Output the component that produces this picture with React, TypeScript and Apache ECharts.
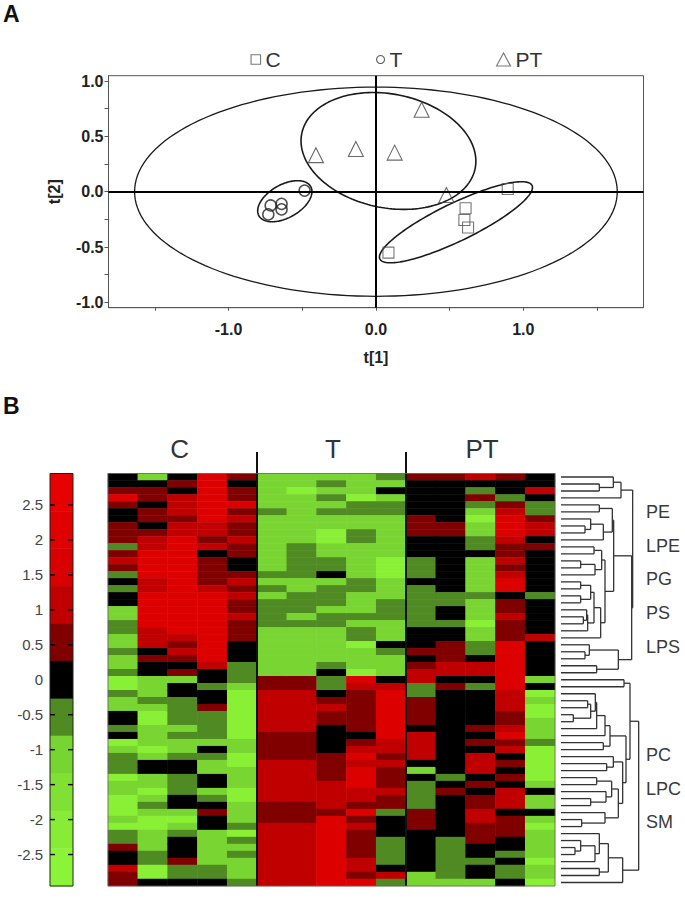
import React, { useEffect, useRef } from "react";
import * as echarts from "echarts";

const FONT = '"Liberation Sans", Arial, sans-serif';

// Panel A: score plot
const groupC = [[0.894, 0.024], [0.608, -0.15], [0.6, -0.256], [0.625, -0.323], [0.085, -0.55]];
const groupT = [[-0.484, 0.01], [-0.64, -0.11], [-0.64, -0.16], [-0.714, -0.124], [-0.73, -0.205]];
const groupPT = [[0.31, 0.74], [-0.136, 0.386], [0.127, 0.353], [-0.407, 0.33], [0.478, -0.03]];
// centre x, centre y, half width, half height, phase (deg), line width
const ellipses = [
  [0, 0, 1.637, 0.945, 90, 1.3],
  [0.085, 0.368, 0.593, 0.528, 100, 1.6],
  [0.543, -0.276, 0.519, 0.3665, 31, 1.6],
  [-0.618, -0.086, 0.184, 0.1855, 62, 1.6],
];

// Panel B: colour scale
const barEdges = [2.95, 2.41, 1.88, 1.34, 0.8, 0.27, -0.27, -0.8, -1.34, -1.88, -2.41, -2.95];
const barColors = ["#e60000", "#e00000", "#d80000", "#c00000", "#800000", "#000000", "#4f8a23", "#78d430", "#80e033", "#88ec36", "#8cf438"];
const barTicks = [2.5, 2, 1.5, 1, 0.5, 0, -0.5, -1, -1.5, -2, -2.5];

// Level codes used in the heat map columns
const levelValues: Record<string, number> = { "3": 2.15, "2": 1.07, "1": 0.54, "0": 0, a: -0.54, b: -1.07, c: -2.15 };
const levelColors: Record<string, string> = { "3": "#dd0000", "2": "#c00000", "1": "#800000", "0": "#000000", a: "#4f8a23", b: "#79d531", c: "#8af036" };

// Each column: rows 0-28 then rows 29-58
const colC1 = "00131" + "00111" + "a121a" + "0a00b" + "baabb" + "abba" + "ccabb" + "00a0c" + "baaac" + "bbccc" + "bcaa1" + "00211";
const colC2 = "b0110" + "11012" + "23333" + "22333" + "33222" + "0100" + "bbbab" + "ccbbb" + "cb00b" + "bcbab" + "ccbbb" + "aacc0";
const colC3 = "01022" + "21223" + "33333" + "33333" + "33321" + "2101" + "b00aa" + "aabab" + "ba00a" + "aa00b" + "cba00" + "01aa0";
const colC4 = "33333" + "33221" + "20111" + "12333" + "33333" + "3320" + "0a001" + "aaaab" + "0abb0" + "0ba01" + "00bbb" + "bbaa0";
const colC5 = "10113" + "12112" + "11001" + "21211" + "21110" + "00aa" + "abccc" + "ccccb" + "bccbb" + "bccbb" + "bacab" + "abbba";
const colT1 = "bbbbb" + "abbbb" + "bbbba" + "babaa" + "aabbb" + "bbbb" + "11222" + "22211" + "11222" + "22211" + "12222" + "22222";
const colT2 = "bbcbb" + "bbbbb" + "aaaaa" + "bbaaa" + "babbb" + "bbbb" + "11222" + "22211" + "11222" + "22211" + "12222" + "22222";
const colT3 = "babab" + "abbcc" + "bbaa0" + "baaab" + "aabbb" + "bba0" + "aa012" + "11000" + "01111" + "22221" + "33333" + "33333";
const colT4 = "bbbca" + "abbaa" + "bbbbb" + "aabbb" + "abaac" + "bbbc" + "32111" + "11101" + "23233" + "32213" + "12111" + "12213";
const colT5 = "ab0ba" + "abbbb" + "bbccc" + "bbbaa" + "abbb0" + "abbb" + "02333" + "33332" + "21211" + "1211a" + "000aa" + "aa02a";
const colPT1 = "10000" + "01110" + "00aaa" + "0aaaa" + "aa000" + "1012" + "2aa11" + "11022" + "220b0" + "aaaa1" + "11000" + "000bb";
const colPT2 = "10000" + "00110" + "00000" + "00aa0" + "0a001" + "1122" + "01000" + "00000" + "0000a" + "01000" + "000aa" + "aaaab";
const colPT3 = "20a1a" + "bcbba" + "a0bbb" + "bbabb" + "bcbba" + "a022" + "0a000" + "00101" + "02220" + "10112" + "21110" + "0a00b";
const colPT4 = "100a1" + "23332" + "11212" + "33011" + "21113" + "3333" + "33222" + "11231" + "20101" + "02220" + "11100" + "a0aa0";
const colPT5 = "0020a" + "a1220" + "10000" + "00a00" + "00020" + "0000" + "b0cbc" + "cbbba" + "ccccc" + "b0bb0" + "bcbbb" + "bcbbc";
const heatColumns = [colC1, colC2, colC3, colC4, colC5, colT1, colT2, colT3, colT4, colT5, colPT1, colPT2, colPT3, colPT4, colPT5];

// Dendrogram trees: leaf = row index, node = [merge height, left, right]
type Node = number | [number, Node, Node];
const topTree: Node = [248,
  [213, [190, 0, [148, 1, 2]], 3],
  [245,
    [191,
      [187, [148, 4, 5], [160, [122, 6, [105, 7, 8]], 9]],
      [165,
        [155, [132, 10, 11], [135, [92, 12, 13], 14]],
        [152, [132, [122, [92, 15, 16], [92, 17, 18]], [113, [110, 19, [100, 20, 21]], 22]], 23]]],
    [205, [118, 24, [105, 25, 26]], [140, 27, 28]]]];
const bottomTree: Node = [266,
  [240,
    [222, 29, 30],
    [228,
      [180, [165, [140, [136, 31, [122, [113, 32, 33], [70, 34, 35]]], 36], 37], [160, 38, 39]],
      [218,
        [190, 40, [170, 41, 42]],
        [205, [185, [140, 43, 44], [168, 45, [122, 46, 47]]], [165, 48, [95, 49, 50]]]]]],
  [218, [175, [148, 51, [135, [92, 52, [75, 53, 54]], 55]], [148, 56, 57]], 58]];

const columnHeads = ["C", "T", "PT"];
const classesTop = ["PE", "LPE", "PG", "PS", "LPS"];
const classesBottom = ["PC", "LPC", "SM"];

const ROWS = 59;
const LEAF = 33;
const HEAT = { left: 108, top: 473.5, width: 447, height: 412.5 };

function walk(node: Node, out: number[][]): { x: number; y: number } {
  if (typeof node === "number") return { x: LEAF, y: node };
  const [h, l, r] = node;
  const a = walk(l, out);
  const b = walk(r, out);
  out.push([a.x, a.y, h, a.y], [b.x, b.y, h, b.y], [h, a.y, h, b.y]);
  return { x: h, y: (a.y + b.y) / 2 };
}

function buildOption() {
  const heatData: number[][] = [];
  heatColumns.forEach((col, x) => {
    for (let y = 0; y < ROWS; y++) heatData.push([x, y, levelValues[col[y] ?? "0"]]);
  });
  const segs: number[][] = [];
  walk(topTree, segs);
  walk(bottomTree, segs);
  const bars = barColors.map((_, i) => [barEdges[i + 1], barEdges[i], i]);
  const colW = HEAT.width / heatColumns.length;
  const sepXs = [5, 10].map((k) => HEAT.left + k * colW);
  const headOffsets = [2.4, 7.55, 12.55];

  const labelText = (text: string, x: number, y: number, size: number, bold = false, color = "#3a3a3a") => ({
    type: "text" as const,
    x,
    y,
    style: { text, font: `${bold ? "bold " : ""}${size}px ${FONT}`, fill: color, textAlign: "left", textVerticalAlign: "middle" },
  });
  const legendItem = (name: string, icon: string, left: number, w: number, h: number, stroke: string) => ({
    left,
    top: 44,
    itemWidth: w,
    itemHeight: h,
    selectedMode: false,
    itemStyle: { color: "transparent", borderColor: stroke, borderWidth: 1.1 },
    textStyle: { fontFamily: FONT, fontSize: 21, color: "#333" },
    data: [{ name, icon }],
  });

  return {
    animation: false,
    backgroundColor: "#fff",
    textStyle: { fontFamily: FONT },
    legend: [
      legendItem("C", "rect", 245.5, 9.5, 9.5, "#555"),
      legendItem("T", "circle", 371, 8, 8, "#333"),
      legendItem("PT", "triangle", 491, 14, 13, "#555"),
    ],
    grid: [
      { left: 108.5, top: 75.7, width: 535, height: 232, show: true, borderColor: "#555", borderWidth: 1 },
      { left: 50, top: HEAT.top, width: 23, height: HEAT.height },
      { ...HEAT },
      { left: 561, top: HEAT.top, width: 79, height: HEAT.height },
    ],
    xAxis: [
      {
        gridIndex: 0, type: "value", min: -1.814, max: 1.815, splitLine: { show: false },
        name: "t[1]", nameLocation: "middle", nameGap: 42,
        nameTextStyle: { fontFamily: FONT, fontWeight: "bold", fontSize: 16, color: "#222" },
        axisLine: { show: true, onZero: false, lineStyle: { color: "#555" } },
        axisTick: { show: true, length: 3, lineStyle: { color: "#555" }, customValues: [-1.5, -1, -0.5, 0, 0.5, 1, 1.5] },
        axisLabel: { customValues: [-1, 0, 1], margin: 14, fontFamily: FONT, fontWeight: "bold", fontSize: 16, color: "#222", formatter: (v: number) => v.toFixed(1) },
      },
      { gridIndex: 1, type: "value", min: 0, max: 1, show: false },
      { gridIndex: 2, type: "category", data: heatColumns.map((_, i) => i), show: false },
      { gridIndex: 3, type: "value", min: LEAF, max: 270, show: false },
    ],
    yAxis: [
      {
        gridIndex: 0, type: "value", min: -1.048, max: 1.048, splitLine: { show: false },
        name: "t[2]", nameLocation: "middle", nameGap: 46,
        nameTextStyle: { fontFamily: FONT, fontWeight: "bold", fontSize: 16, color: "#222" },
        axisLine: { show: true, onZero: false, lineStyle: { color: "#555" } },
        axisTick: { show: true, length: 4, lineStyle: { color: "#555" }, customValues: [-1, -0.75, -0.5, -0.25, 0, 0.25, 0.5, 0.75, 1] },
        axisLabel: { customValues: [-1, -0.5, 0, 0.5, 1], margin: 5, fontFamily: FONT, fontWeight: "bold", fontSize: 16, color: "#222", formatter: (v: number) => v.toFixed(1) },
      },
      {
        gridIndex: 1, type: "value", min: -2.95, max: 2.95, splitLine: { show: false },
        axisLine: { show: false },
        axisTick: { show: false },
        axisLabel: { customValues: barTicks, margin: 7, fontFamily: FONT, fontSize: 15, color: "#444" },
      },
      { gridIndex: 2, type: "category", inverse: true, data: Array.from({ length: ROWS }, (_, i) => i), show: false },
      { gridIndex: 3, type: "value", inverse: true, min: -0.5, max: ROWS - 0.5, show: false },
    ],
    visualMap: [
      {
        show: false,
        type: "piecewise",
        seriesIndex: 5,
        dimension: 2,
        pieces: Object.keys(levelValues).map((k) => ({ value: levelValues[k], color: levelColors[k] })),
      },
    ],
    series: [
      {
        type: "custom", xAxisIndex: 0, yAxisIndex: 0, z: 3, silent: true, clip: false,
        data: ellipses,
        renderItem: (_: any, api: any) => {
          const [cx, cy, sx, sy, d, lw] = [0, 1, 2, 3, 4, 5].map((k) => api.value(k));
          const points: number[][] = [];
          for (let i = 0; i < 160; i++) {
            const t = (i / 160) * 2 * Math.PI;
            points.push(api.coord([cx + sx * Math.cos(t), cy + sy * Math.cos(t - (d * Math.PI) / 180)]));
          }
          return { type: "polygon", shape: { points }, style: { fill: "none", stroke: "#1a1a1a", lineWidth: lw } };
        },
      },
      {
        name: "C", type: "scatter", xAxisIndex: 0, yAxisIndex: 0, symbol: "rect", symbolSize: 11, z: 4,
        itemStyle: { color: "transparent", borderColor: "#555", borderWidth: 1.1 }, data: groupC,
        markLine: {
          silent: true, symbol: "none", label: { show: false }, lineStyle: { color: "#000", width: 2, type: "solid" },
          data: [{ xAxis: 0 }, { yAxis: 0 }],
        },
      },
      {
        name: "T", type: "scatter", xAxisIndex: 0, yAxisIndex: 0, symbol: "circle", symbolSize: 11, z: 4,
        itemStyle: { color: "transparent", borderColor: "#222", borderWidth: 1.5 }, data: groupT,
      },
      {
        name: "PT", type: "scatter", xAxisIndex: 0, yAxisIndex: 0, symbol: "triangle", symbolSize: 15, z: 4,
        itemStyle: { color: "transparent", borderColor: "#444", borderWidth: 1.1 }, data: groupPT,
      },
      {
        type: "custom", xAxisIndex: 1, yAxisIndex: 1, z: 2, silent: true, clip: false,
        data: bars,
        renderItem: (_: any, api: any) => {
          const a = api.coord([0, api.value(1)]);
          const b = api.coord([1, api.value(0)]);
          return {
            type: "rect",
            shape: { x: a[0], y: a[1], width: b[0] - a[0], height: b[1] - a[1] + 0.5 },
            style: { fill: barColors[api.value(2)] },
          };
        },
      },
      {
        type: "heatmap", xAxisIndex: 2, yAxisIndex: 2, z: 2, silent: true, data: heatData,
        itemStyle: { borderWidth: 0 }, emphasis: { disabled: true }, progressive: 0,
      },
      {
        type: "custom", xAxisIndex: 3, yAxisIndex: 3, z: 2, silent: true, clip: false,
        data: segs,
        renderItem: (_: any, api: any) => {
          const a = api.coord([api.value(0), api.value(1)]);
          const b = api.coord([api.value(2), api.value(3)]);
          return {
            type: "line",
            shape: { x1: a[0], y1: a[1], x2: b[0], y2: b[1] },
            style: { stroke: "#333", lineWidth: 1.3 },
          };
        },
      },
      {
        // inward ticks on both sides of the colour bar
        type: "custom", xAxisIndex: 1, yAxisIndex: 1, z: 8, silent: true, clip: false,
        data: barTicks.map((v) => [0, v]),
        renderItem: (_: any, api: any) => {
          const a = api.coord([0, api.value(1)]);
          const b = api.coord([1, api.value(1)]);
          const style = { stroke: "#000", lineWidth: 1.4, fill: "none" };
          return {
            type: "group",
            children: [
              { type: "line", shape: { x1: a[0], y1: a[1], x2: a[0] + 5, y2: a[1] }, style },
              { type: "line", shape: { x1: b[0] - 5, y1: b[1], x2: b[0], y2: b[1] }, style },
            ],
          };
        },
      },
    ],
    graphic: [
      labelText("A", 3, 14, 23, true, "#111"),
      labelText("B", 3, 406, 23, true, "#111"),
      ...columnHeads.map((t, i) => ({
        type: "text" as const,
        x: HEAT.left + headOffsets[i] * colW,
        y: 449,
        style: { text: t, font: `26px ${FONT}`, fill: "#333", textAlign: "center", textVerticalAlign: "middle" },
      })),
      ...classesTop.map((t, i) => labelText(t, 646, 512 + i * 33.7, 18)),
      ...classesBottom.map((t, i) => labelText(t, 646, 755 + i * 33.5, 18)),
      ...sepXs.map((x) => ({
        type: "line" as const,
        z: 10,
        shape: { x1: x, y1: 452, x2: x, y2: HEAT.top + HEAT.height },
        style: { stroke: "#111", lineWidth: 2 },
      })),
      {
        type: "rect" as const,
        z: 10,
        shape: { x: 50, y: HEAT.top, width: 23, height: HEAT.height },
        style: { fill: "none", stroke: "#222", lineWidth: 1 },
      },
      {
        type: "rect" as const,
        z: 10,
        shape: { x: HEAT.left, y: HEAT.top, width: HEAT.width, height: HEAT.height },
        style: { fill: "none", stroke: "#666", lineWidth: 0.8 },
      },
    ],
  };
}

export default function App() {
  const ref = useRef<HTMLDivElement>(null);
  useEffect(() => {
    document.body.style.margin = "0";
    const chart = echarts.init(ref.current!, undefined, { renderer: "svg" });
    chart.setOption(buildOption() as any);
    return () => chart.dispose();
  }, []);
  return <div ref={ref} style={{ width: 685, height: 898 }} />;
}
